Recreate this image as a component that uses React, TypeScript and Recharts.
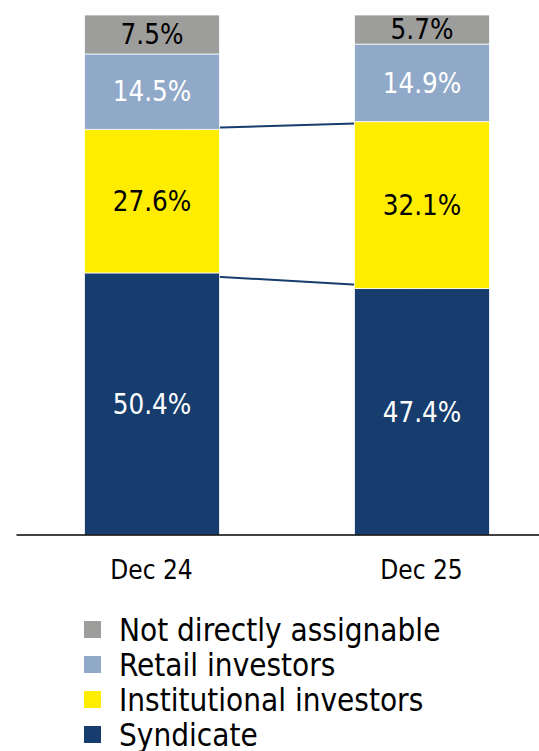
import { BarChart, Bar, XAxis, YAxis, Legend, LabelList, ReferenceLine } from "recharts";

const periods = ["Dec 24", "Dec 25"];
const syndicate = [50.4, 47.4];
const institutional = [27.6, 32.1];
const retail = [14.5, 14.9];
const notAssignable = [7.5, 5.7];

const FONT = "'DejaVu Sans Condensed', 'DejaVu Sans', sans-serif";

const SERIES = [
  { key: "syndicate", name: "Syndicate", color: "#163d6e", label: "#ffffff" },
  { key: "institutional", name: "Institutional investors", color: "#ffed00", label: "#000000" },
  { key: "retail", name: "Retail investors", color: "#91a9c9", label: "#ffffff" },
  { key: "notAssignable", name: "Not directly assignable", color: "#9d9d9c", label: "#000000" },
];

const data = periods.map((p, i) => ({
  period: p,
  syndicate: syndicate[i],
  institutional: institutional[i],
  retail: retail[i],
  notAssignable: notAssignable[i],
}));

const fmt = (v: any) => `${Number(v).toFixed(1)}%`;

function LegendBox() {
  const items = [...SERIES].reverse();
  return (
    <div style={{ fontFamily: FONT, fontSize: 31.2, color: "#000" }}>
      {items.map((s) => (
        <div key={s.key} style={{ display: "flex", alignItems: "center", height: 35, whiteSpace: "nowrap" }}>
          <span style={{ width: 17, height: 17, background: s.color, marginRight: 18, display: "inline-block", flexShrink: 0 }} />
          <span>{s.name}</span>
        </div>
      ))}
    </div>
  );
}

export default function App() {
  return (
    <div style={{ position: "absolute", left: 0, top: 0, width: 539, height: 751, overflow: "hidden", background: "#fff" }}>
      <BarChart
        width={560}
        height={751}
        data={data}
        margin={{ top: 15, right: 3.5, bottom: 186, left: 16.5 }}
      >
        <XAxis
          dataKey="period"
          tickLine={false}
          tickMargin={20}
          axisLine={{ stroke: "#000", strokeWidth: 1.5 }}
          tick={{ fill: "#000", fontSize: 26, fontFamily: FONT }}
        />
        <YAxis hide domain={[0, 100]} allowDataOverflow />
        <ReferenceLine
          segment={periods.map((p, i) => ({ x: p, y: syndicate[i] }))}
          stroke="#163d6e"
          strokeWidth={2}
          zIndex={0}
        />
        <ReferenceLine
          segment={periods.map((p, i) => ({ x: p, y: syndicate[i] + institutional[i] }))}
          stroke="#163d6e"
          strokeWidth={2}
          zIndex={0}
        />
        {SERIES.map((s) => (
          <Bar
            key={s.key}
            dataKey={s.key}
            name={s.name}
            stackId="a"
            fill={s.color}
            stroke="#ffffff"
            strokeWidth={0.75}
            barSize={135}
            isAnimationActive={false}
          >
            <LabelList
              dataKey={s.key}
              position="center"
              formatter={fmt}
              fill={s.label}
              style={{ fontSize: 27.5, fontFamily: FONT, fill: s.label }}
            />
          </Bar>
        ))}
        <Legend
          layout="vertical"
          align="center"
          verticalAlign="middle"
          wrapperStyle={{ top: 612, left: 84, width: 450 }}
          content={() => <LegendBox />}
        />
      </BarChart>
    </div>
  );
}
